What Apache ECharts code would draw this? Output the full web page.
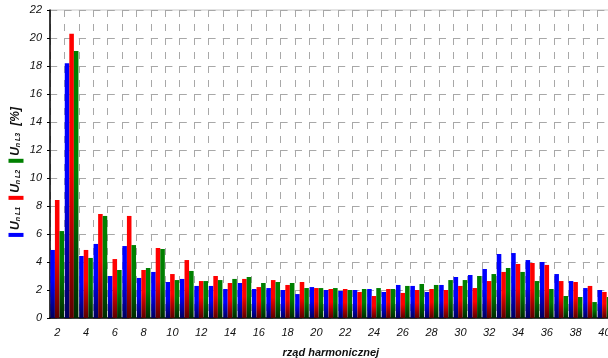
<!DOCTYPE html>
<html>
<head>
<meta charset="utf-8">
<script src="https://cdn.jsdelivr.net/npm/echarts@6/dist/echarts.min.js"></script>
<style>
  html, body { margin: 0; padding: 0; background: #fff; }
  #main { width: 608px; height: 358px; }
</style>
</head>
<body>
<div id="main"></div>
<script>
// numery harmonicznych
let categories = ['2','3','4','5','6','7','8','9','10','11','12','13','14','15','16','17','18','19','20','21',
  '22','23','24','25','26','27','28','29','30','31','32','33','34','35','36','37','38','39','40'];
// U_n dla faz L1, L2, L3 [%]
let uL1 = [4.86,18.2,4.43,5.29,3.0,5.14,2.86,3.29,2.57,2.79,2.29,2.29,2.07,2.5,2.07,2.14,2.0,1.71,2.21,2.0,
  1.93,2.0,2.07,1.86,2.36,2.29,1.86,2.36,2.93,3.07,3.5,4.57,4.64,4.14,4.0,3.14,2.64,2.14,2.0];
let uL2 = [8.43,20.3,4.86,7.43,4.21,7.29,3.43,5.0,3.14,4.14,2.64,3.0,2.5,2.79,2.21,2.71,2.36,2.57,2.14,2.07,
  2.07,1.86,1.57,2.07,1.79,2.0,2.07,2.0,2.29,2.14,2.64,3.29,3.86,3.93,3.79,2.64,2.57,2.29,1.86];
let uL3 = [6.21,19.07,4.29,7.29,3.43,5.21,3.57,4.93,2.71,3.36,2.64,2.71,2.79,2.93,2.5,2.57,2.5,2.14,2.14,2.14,
  2.0,2.07,2.14,2.07,2.29,2.43,2.36,2.71,2.71,3.0,3.14,3.57,3.29,2.64,2.07,1.57,1.5,1.14,1.5];

let font = 'Liberation Sans';

function grad(top, bottom){
  return {
    type: 'linear', x: 0, y: 0, x2: 0, y2: 1,
    colorStops: [
      {offset: 0, color: top},
      {offset: 0.45, color: top},
      {offset: 1, color: bottom}
    ]
  };
}

function makeSeries(name, data, top, bottom){
  return {
    name: name,
    type: 'bar',
    data: data,
    barGap: 0,
    barCategoryGap: '5%',
    itemStyle: { color: grad(top, bottom) }
  };
}

let chart = echarts.init(document.getElementById('main'));
let option = {
  animation: false,
  grid: {
    left: 50,
    top: 10,
    width: 561.6,
    height: 308,
    outerBoundsMode: 'none',
    containLabel: false,
    show: true,
    borderColor: '#c8c8c8',
    borderWidth: 1
  },
  xAxis: {
    type: 'category',
    data: categories,
    boundaryGap: true,
    name: 'rząd harmonicznej',
    nameLocation: 'middle',
    nameGap: 29,
    nameTextStyle: {
      fontFamily: font, fontSize: 11, fontWeight: 'bold', fontStyle: 'italic', color: '#111'
    },
    axisLine: { lineStyle: { color: '#000', width: 1.5 } },
    axisTick: { interval: 0, length: 4, lineStyle: { color: '#000' } },
    axisLabel: {
      interval: 1,
      margin: 9,
      fontFamily: font, fontSize: 11, fontStyle: 'italic', color: '#111'
    },
    splitLine: {
      show: true,
      interval: 0,
      lineStyle: { color: '#a8a8a8', width: 1, type: [7, 7] }
    }
  },
  yAxis: {
    type: 'value',
    min: 0,
    max: 22,
    interval: 2,
    axisLine: { show: true, lineStyle: { color: '#000', width: 1.5 } },
    axisTick: { show: true, length: 3, lineStyle: { color: '#000' } },
    axisLabel: {
      margin: 8,
      fontFamily: font, fontSize: 11, fontStyle: 'italic', color: '#111'
    },
    splitLine: {
      show: true,
      lineStyle: { color: '#a8a8a8', width: 1, type: [7.2, 7.2] }
    }
  },
  graphic: [{
    type: 'text',
    x: 16,
    y: 172,
    rotation: Math.PI / 2,
    style: {
      text: '{b| }{g3| }{u|U}{s|n L1}{g7| }{r| }{g3| }{u|U}{s|n L2}{g7| }{g| }{g3| }{u|U}{s|n L3}{g7| }{u|[%]}',
      align: 'center',
      verticalAlign: 'middle',
      rich: {
        b: { backgroundColor: '#0000ff', width: 4, height: 15 },
        r: { backgroundColor: '#ff0000', width: 4, height: 15 },
        g: { backgroundColor: '#008000', width: 4, height: 15 },
        g3: { width: 3 },
        g7: { width: 7 },
        u: { fontFamily: font, fontSize: 12, fontWeight: 'bold', fontStyle: 'italic', fill: '#111' },
        s: { fontFamily: font, fontSize: 7, fontWeight: 'bold', fontStyle: 'italic', fill: '#111', padding: [4, 0, 0, 0] }
      }
    }
  }],
  series: [
    makeSeries('L1', uL1, '#0000ff', '#00005a'),
    makeSeries('L2', uL2, '#ff0000', '#5a0000'),
    makeSeries('L3', uL3, '#008000', '#002a00')
  ]
};
chart.setOption(option);
</script>
</body>
</html>
